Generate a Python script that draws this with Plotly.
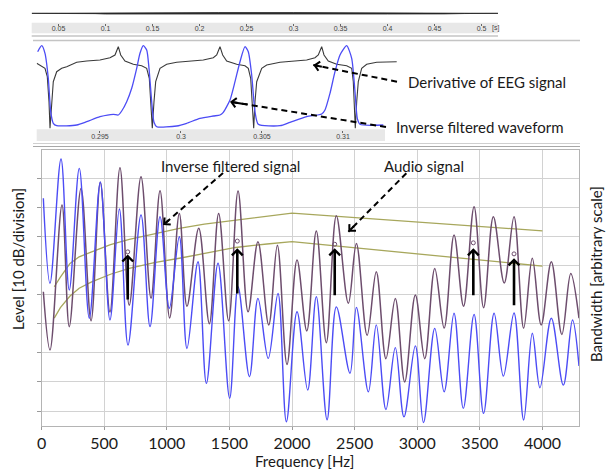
import plotly.graph_objects as go

# the page body margin is removed (post_script below), so window pixels map 1:1 to the figure
OFF = 0
W, H = 608, 469

# ---------------- DATA ----------------
# Top strip: whole-utterance waveform envelope (time s, arbitrary amplitude)
utt_t = [0.0215, 0.089, 0.10, 0.12, 0.14, 0.16, 0.18, 0.22, 0.30, 0.40, 0.46, 0.482, 0.5175]
utt_env = [0.0, 0.03, 0.07, 0.09, 0.12, 0.13, 0.11, 0.08, 0.08, 0.07, 0.06, 0.02, 0.0]
top_ticks = [0.05, 0.1, 0.15, 0.2, 0.25, 0.3, 0.35, 0.4, 0.45, 0.5]
top_ticktext = ["0.05", "0.1", "0.15", "0.2", "0.25", "0.3", "0.35", "0.4", "0.45", "0.5"]

# Middle panel: inverse filtered waveform (blue) and derivative of EGG (black)
flow_t = [0.291154, 0.291401, 0.291605, 0.291809, 0.291957, 0.292117, 0.292327, 0.293562, 0.294179,
          0.295, 0.295823, 0.29613, 0.29634, 0.296648, 0.296957, 0.297265, 0.297469, 0.297673,
          0.297883, 0.298025, 0.298191, 0.298333, 0.2985, 0.299735, 0.300352, 0.301173, 0.301994,
          0.302407, 0.302611, 0.303025, 0.303333, 0.303642, 0.303951, 0.304154, 0.304364, 0.304568,
          0.304772, 0.306111, 0.306728, 0.307759, 0.308685, 0.308889, 0.309198, 0.309506, 0.309815,
          0.310228, 0.310537, 0.310741, 0.310883, 0.311049, 0.312488]
flow_v = [78.3, 84.3, 76.7, 51.7, 18.3, 6.7, 4.3, 5.0, 8.3,
          13.3, 15.7, 15.0, 19.0, 28.3, 41.7, 61.7, 76.7, 84.3,
          80.0, 61.7, 28.3, 7.7, 3.3, 4.0, 6.7, 11.7, 14.0,
          15.0, 17.7, 30.0, 48.3, 68.3, 83.3, 78.3, 55.0, 18.3,
          5.7, 4.3, 7.7, 13.3, 16.0, 20.0, 36.7, 58.3, 75.0,
          84.3, 71.7, 38.3, 11.7, 5.7, 5.0]
egg_t = [0.291093, 0.291401, 0.291605, 0.291747, 0.291852, 0.291914, 0.292019, 0.292117, 0.292327,
         0.292636, 0.292944, 0.293562, 0.294179, 0.295, 0.295617, 0.295926, 0.29613, 0.296278,
         0.296543, 0.297056, 0.297574, 0.297883, 0.298043, 0.298148, 0.298228, 0.298333, 0.298438,
         0.298704, 0.299117, 0.299735, 0.300556, 0.301377, 0.301994, 0.302204, 0.302407, 0.302574,
         0.302821, 0.303438, 0.303951, 0.304154, 0.304302, 0.304401, 0.304488, 0.304568, 0.304673,
         0.304982, 0.30529, 0.306111, 0.306932, 0.307759, 0.308272, 0.308475, 0.308685, 0.308827,
         0.309093, 0.309611, 0.310228, 0.310537, 0.310636, 0.310698, 0.310759, 0.310846, 0.310944,
         0.311154, 0.311463, 0.31208, 0.312698, 0.313315]
egg_v = [66.7, 63.3, 61.7, 53.3, 28.3, 1.7, 28.3, 48.3, 58.3,
         61.7, 63.3, 67.7, 69.0, 70.0, 72.3, 75.0, 83.3, 75.0,
         69.0, 65.7, 64.3, 61.7, 51.7, 25.0, 1.7, 28.3, 48.3,
         61.7, 65.7, 67.7, 69.0, 70.0, 72.3, 75.0, 83.3, 75.0,
         69.0, 65.7, 64.3, 61.7, 51.7, 25.0, 1.7, 28.3, 48.3,
         61.7, 65.0, 67.7, 69.0, 70.0, 72.3, 75.0, 83.3, 75.0,
         69.0, 65.7, 64.3, 61.7, 48.3, 25.0, 1.7, 28.3, 48.3,
         61.7, 65.7, 67.7, 68.3, 68.3]
mid_ticks = [0.295, 0.3, 0.305, 0.31]
mid_ticktext = ["0.295", "0.3", "0.305", "0.31"]

# Main panel: spectra (level in 10 dB divisions), peaks and valleys
audio_f = [14, 67, 163, 221, 315, 395, 469, 546, 626, 700, 794, 874, 946, 1023, 1100, 1161, 1255, 1340,
           1414, 1494, 1569, 1649, 1728, 1814, 1883, 1960, 2040, 2118, 2194, 2274, 2354, 2450, 2514, 2600,
           2673, 2750, 2825, 2900, 2985, 3060, 3140, 3215, 3294, 3370, 3454, 3530, 3608, 3695, 3773, 3850,
           3919, 3990, 4071, 4155, 4226, 4292]
audio_L = [4.1, 2.1, 7.08, 2.9, 7.65, 3.1, 7.86, 3.4, 8.36, 3.64, 8.05, 3.88, 7.57, 3.2, 6.79, 3.6, 6.28, 3.0,
           6.79, 3.1, 7.56, 3.41, 5.82, 2.96, 5.7, 1.6, 5.19, 2.75, 6.19, 2.35, 6.71, 3.7, 5.76, 2.6,
           4.79, 1.8, 3.87, 1.0, 3.99, 1.8, 4.9, 2.85, 6.05, 3.6, 7.02, 3.55, 6.68, 4.4, 6.68, 2.85,
           5.25, 2.96, 5.13, 2.63, 4.73, 3.19]
inv_f = [14, 67, 155, 221, 301, 381, 469, 546, 621, 690, 794, 866, 946, 1020, 1100, 1161, 1249, 1316,
         1409, 1502, 1569, 1660, 1728, 1810, 1888, 1955, 2040, 2125, 2194, 2280, 2354, 2463, 2514, 2610,
         2673, 2750, 2825, 2894, 2985, 3050, 3140, 3215, 3294, 3368, 3454, 3530, 3614, 3688, 3773, 3850,
         3919, 3980, 4071, 4167, 4240, 4292]
inv_L = [7.31, 4.39, 8.66, 4.16, 8.34, 3.19, 7.86, 3.13, 6.94, 2.27, 6.74, 2.9, 6.68, 3.53, 5.99, 2.15, 5.13, 0.95,
         5.08, 0.44, 4.27, 1.18, 3.87, 1.81, 4.04, -0.37, 3.41, 0.72, 3.93, -0.3, 3.58, 1.3, 3.56, 0.66,
         2.96, 0.05, 2.18, -0.2, 2.24, -0.4, 2.84, 0.66, 3.36, 0.09, 3.32, -0.08, 3.36, 1.2, 3.37, -0.31,
         2.67, 0.8, 3.19, 0.89, 3.13, 1.55]
bw_f = [101, 150, 227, 300, 400, 550, 700, 900, 1100, 1300, 1550, 1800, 2000, 4000]
bw_hi = [4.27, 4.6, 5.07, 5.3, 5.47, 5.72, 5.9, 6.1, 6.28, 6.42, 6.56, 6.7, 6.8, 6.19]
bw_lo = [3.19, 3.55, 3.95, 4.22, 4.44, 4.7, 4.9, 5.1, 5.25, 5.42, 5.62, 5.74, 5.82, 4.98]

mark_f = [688, 1563, 2341, 3448, 3773]
mark_L = [5.47, 5.84, 5.73, 5.78, 5.40]
arrow_head = [5.38, 5.59, 5.59, 5.59, 5.25]
arrow_tail = [3.78, 3.99, 3.93, 3.93, 3.58]

freq_ticks = [0, 500, 1000, 1500, 2000, 2500, 3000, 3500, 4000]
level_ticks = [0, 1, 2, 3, 4, 5, 6, 7, 8, 9]

# ---------------- STYLE ----------------
FONT = "Lato"
PURPLE = "#6d4d6d"
BLUE = "#4c4cf5"
OLIVE = "#a7a75c"
GRID = "#d2d2d2"
FRAME = "#b4b4b4"


def px(x):
    # window pixel -> paper fraction
    return min(1.0, max(0.0, (x - OFF) / W))


def py(y):
    return min(1.0, max(0.0, 1 - (y - OFF) / H))


fig = go.Figure()

# top strip waveform
fig.add_trace(go.Scatter(
    x=utt_t + utt_t[::-1], y=utt_env + [-v for v in utt_env[::-1]],
    mode="lines", fill="toself", fillcolor="#333333",
    line=dict(color="#222222", width=0.8), xaxis="x2", yaxis="y2", hoverinfo="skip"))

# middle panel waveforms
fig.add_trace(go.Scatter(x=egg_t, y=egg_v, mode="lines",
                         line=dict(color="#3a3a3a", width=1.1), xaxis="x3", yaxis="y3"))
fig.add_trace(go.Scatter(x=flow_t, y=flow_v, mode="lines", line_shape="spline",
                         line=dict(color=BLUE, width=1.3, smoothing=0.6), xaxis="x3", yaxis="y3"))

# main panel
fig.add_trace(go.Scatter(x=bw_f, y=bw_hi, mode="lines", line=dict(color=OLIVE, width=1.3)))
fig.add_trace(go.Scatter(x=bw_f, y=bw_lo, mode="lines", line=dict(color=OLIVE, width=1.3)))
fig.add_trace(go.Scatter(x=audio_f, y=audio_L, mode="lines", line_shape="spline",
                         line=dict(color=PURPLE, width=1.5, smoothing=1.0)))
fig.add_trace(go.Scatter(x=inv_f, y=inv_L, mode="lines", line_shape="spline",
                         line=dict(color=BLUE, width=1.4, smoothing=1.0)))
fig.add_trace(go.Scatter(x=mark_f, y=mark_L, mode="markers",
                         marker=dict(symbol="circle-open", size=4, color=PURPLE, line=dict(width=1))))

annotations = []
shapes = []

# thick black arrows
for f, yh, yt in zip(mark_f, arrow_head, arrow_tail):
    annotations.append(dict(x=f, y=yh, ax=f, ay=yt, xref="x", yref="y", axref="x", ayref="y",
                            showarrow=True, arrowhead=4, arrowsize=0.8, arrowwidth=2.6,
                            arrowcolor="black", text=""))


def dashed_arrow(x0, y0, x1, y1, xr, yr):
    # dashed line from tail (x0,y0) to head (x1,y1) and an arrow head at (x1,y1)
    shapes.append(dict(type="line", xref=xr, yref=yr, x0=x0, y0=y0, x1=x1, y1=y1,
                       line=dict(color="black", width=2, dash="6px,4px")))
    annotations.append(dict(x=x1, y=y1, ax=x1 + (x0 - x1) * 0.12, ay=y1 + (y0 - y1) * 0.12,
                            xref=xr, yref=yr, axref=xr, ayref=yr, showarrow=True,
                            arrowhead=4, arrowsize=0.9, arrowwidth=2, arrowcolor="black", text=""))


dashed_arrow(1449, 8.18, 970, 6.39, "x", "y")
dashed_arrow(2913, 8.17, 2450, 6.16, "x", "y")
dashed_arrow(0.313333, 48.3, 0.308167, 65.0, "x3", "y3")
dashed_arrow(0.312654, 3.0, 0.303025, 28.3, "x3", "y3")

tf = dict(family=FONT, size=15, color="#1a1a1a")


def label(x, y, text, font=tf, xanchor="center", angle=0):
    return dict(x=px(x), y=py(y), xref="paper", yref="paper", text=text, showarrow=False,
                xanchor=xanchor, yanchor="middle", textangle=angle, font=font)


annotations += [
    dict(x=1509, y=8.42, xref="x", yref="y", text="Inverse filtered signal", showarrow=False,
         xanchor="center", yanchor="middle", font=tf),
    dict(x=3054, y=8.42, xref="x", yref="y", text="Audio signal", showarrow=False,
         xanchor="center", yanchor="middle", font=tf),
    label(406, 81.7, "Derivative of EEG signal", xanchor="left"),
    label(394, 127.3, "Inverse filtered waveform", xanchor="left"),
    label(18, 259, "Level [10 dB/division]", angle=-90),
    label(596, 274, "Bandwidth [arbitrary scale]", angle=-90),
    label(304, 461, "Frequency [Hz]"),
    label(495, 28.3, "[s]", font=dict(family="Liberation Sans", size=7, color="#444444")),
]

# frame bands (window chrome)
shapes += [
    dict(type="rect", xref="paper", yref="paper", x0=px(31.7), x1=px(498), y0=py(33.3), y1=py(22.7),
         fillcolor="#e8e8e8", line=dict(width=0), layer="below"),
    dict(type="line", xref="paper", yref="paper", x0=px(31.7), x1=px(498), y0=py(36), y1=py(36),
         line=dict(color="#a8a8a8", width=1.2)),
    dict(type="line", xref="paper", yref="paper", x0=px(33), x1=px(580), y0=py(40.5), y1=py(40.5),
         line=dict(color="#c4c4c4", width=1.5)),
    dict(type="rect", xref="paper", yref="paper", x0=px(36.7), x1=px(385), y0=py(141), y1=py(129.3),
         fillcolor="#e8e8e8", line=dict(width=0), layer="below"),
    dict(type="line", xref="paper", yref="paper", x0=px(33), x1=px(580), y0=py(143.5), y1=py(143.5),
         line=dict(color="#cfcfcf", width=1.2)),
    dict(type="line", xref="paper", yref="paper", x0=px(33), x1=px(580), y0=py(146.5), y1=py(146.5),
         line=dict(color="#a8a8a8", width=1.2)),
]

fig.update_layout(
    width=W, height=H, margin=dict(l=0, r=0, t=0, b=0, pad=0, autoexpand=False),
    paper_bgcolor="white", plot_bgcolor="white", showlegend=False,
    font=dict(family=FONT, color="#1a1a1a"),
    xaxis=dict(domain=[px(41.6), px(579)], range=[0, 4292], tickvals=freq_ticks, automargin=False,
               tickfont=dict(family=FONT, size=16, color="#1a1a1a"),
               ticks="outside", ticklen=3, tickcolor="#9a9a9a",
               showgrid=True, gridcolor=GRID, gridwidth=1, zeroline=False,
               showline=True, linecolor=FRAME, mirror=True, anchor="y"),
    yaxis=dict(domain=[py(426), py(150)], range=[-0.515, 8.97], tickvals=level_ticks, automargin=False,
               showticklabels=False, ticks="outside", ticklen=4, tickcolor="#9a9a9a",
               showgrid=True, gridcolor=GRID, gridwidth=1, zeroline=False,
               showline=True, linecolor=FRAME, mirror=True, anchor="x"),
    xaxis2=dict(domain=[px(31.7), px(498)], range=[0.0215, 0.5175], anchor="y2", automargin=False,
                tickvals=top_ticks, ticktext=top_ticktext, ticklabelstandoff=-3,
                tickfont=dict(family="Liberation Sans", size=7, color="#444444"),
                ticks="outside", ticklen=2, tickcolor="#666666",
                showgrid=False, zeroline=False, showline=False),
    yaxis2=dict(domain=[py(22.7), py(8)], range=[-1, 0.572], visible=False, anchor="x2", automargin=False),
    xaxis3=dict(domain=[px(36.7), px(400)], range=[0.291093, 0.313519], anchor="y3", automargin=False,
                tickvals=mid_ticks, ticktext=mid_ticktext, ticklabelstandoff=-2,
                tickfont=dict(family="Liberation Sans", size=7, color="#444444"),
                ticks="outside", ticklen=2, tickcolor="#666666",
                showgrid=False, zeroline=False, showline=False),
    yaxis3=dict(domain=[py(130), py(40)], range=[0, 90], visible=False, anchor="x3", automargin=False),
    annotations=annotations, shapes=shapes,
)

fig.write_html("out.html", config={"displayModeBar": False},
               post_script="document.body.style.margin='0px';document.body.style.overflow='hidden';")
